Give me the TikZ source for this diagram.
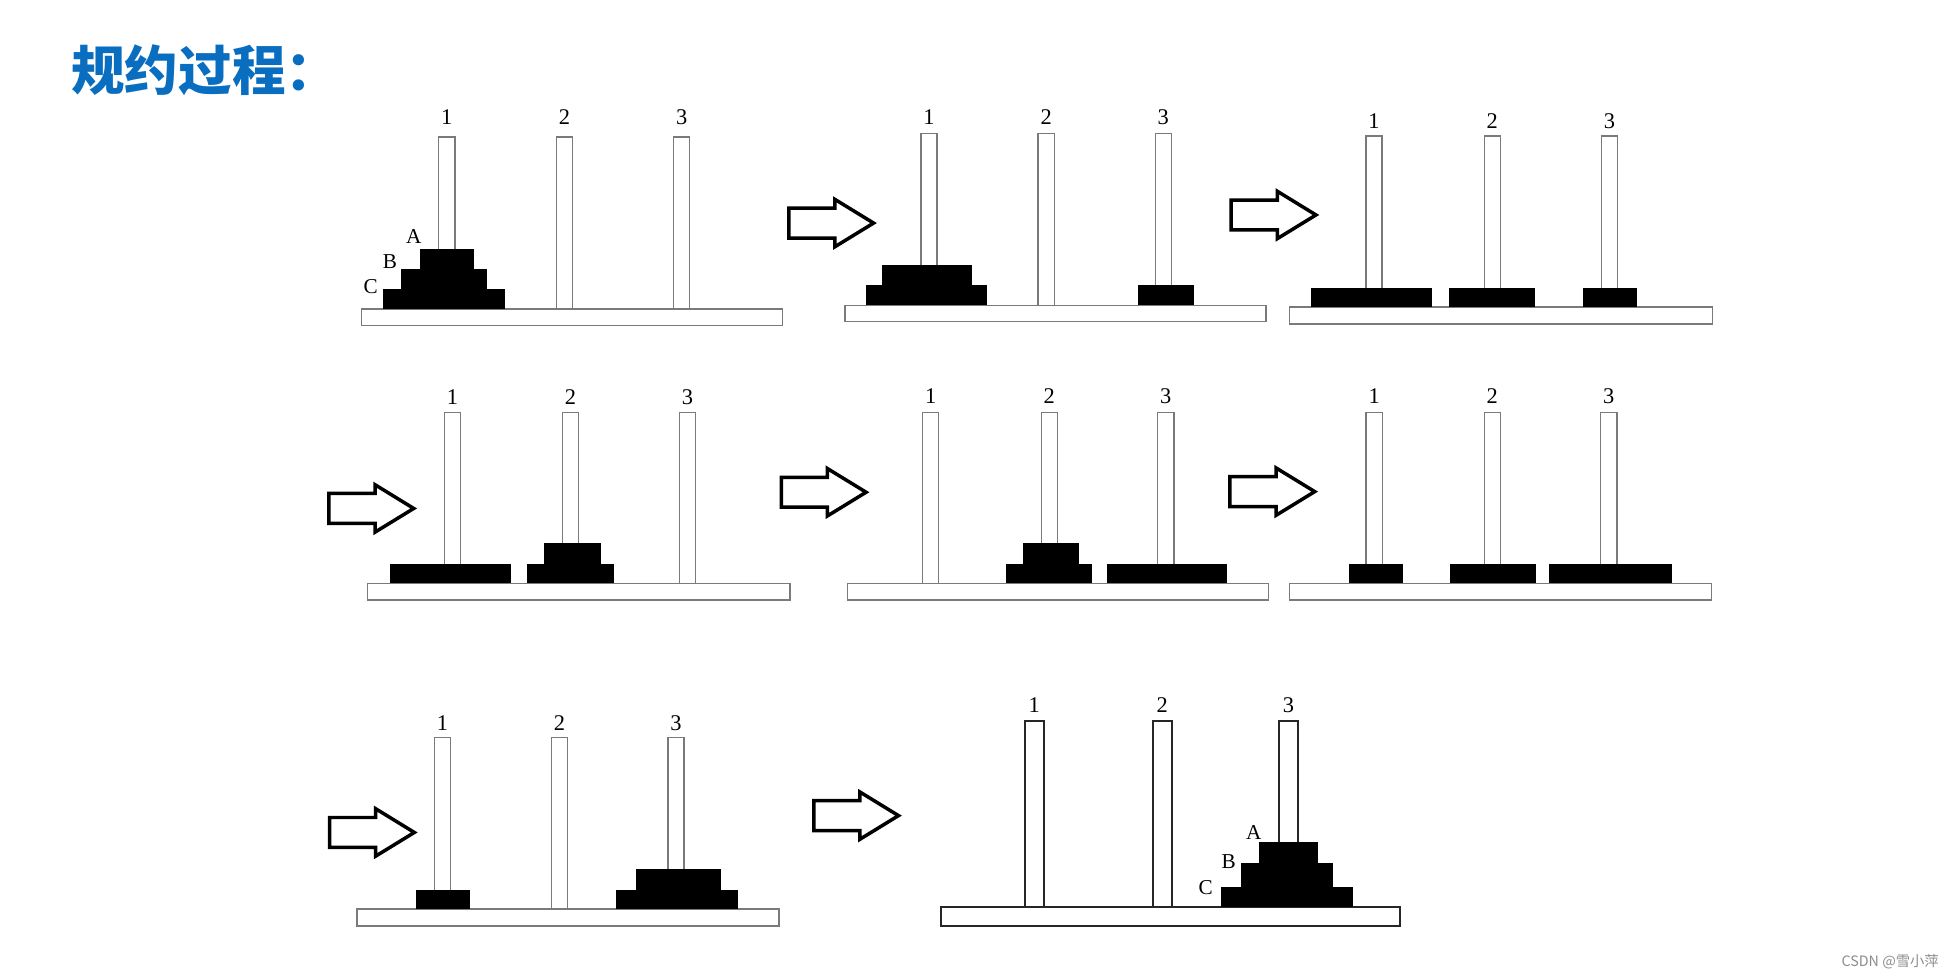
\documentclass[tikz,border=0pt]{standalone}
\usepackage{fontspec}
\setmainfont{Liberation Serif}
\newfontfamily\cjk{Noto Sans CJK SC}
\usepackage{xcolor}
\definecolor{TitleBlue}{HTML}{0A6EC0}
\definecolor{RodGray}{HTML}{7A7A7A}
\usepackage{tikz}

\begin{document}
\begin{tikzpicture}[x=1pt, y=-1pt, every node/.style={inner sep=0pt}]
\tikzset{board/.style={draw=RodGray, fill=white, line width=1.1pt}}
\tikzset{bigboard/.style={draw=black!85, fill=white, line width=1.6pt}}
\tikzset{disk/.style={fill=black}}
\tikzset{num/.style={font=\fontsize{18}{18}\selectfont}}
\tikzset{tag/.style={font=\fontsize{17}{17}\selectfont}}
\tikzset{hollow/.style={draw, line width=2.8pt, fill=white, line join=miter}}
\tikzset{move/.pic={\draw[hollow] (0,-12) -- (37,-12) -- (37,-19) -- (68,0) -- (37,19) -- (37,12) -- (0,12) -- cycle;}}
\useasboundingbox (0,0) rectangle (1568,786);

\node[anchor=west, text=TitleBlue, font=\cjk\bfseries\fontsize{43}{43}\selectfont] (title) at (57,56) {规约过程：};

% start: all on peg 1
\draw[board] (290,248) rectangle (628,261);
\foreach \x/\n in {358.5/1,453/2,547/3} {
  \draw[board] (\x-6.5,110) rectangle (\x+6.5,248);
  \node[num] (s1n\n) at (\x,94) {\n};
}
\fill[disk] (307,232) rectangle (405,248);
\fill[disk] (322,216) rectangle (391,232);
\fill[disk] (337,200) rectangle (380,216);
\node[tag] (s1a) at (332,190) {A};
\node[tag] (s1b) at (313,210) {B};
\node[tag] (s1c) at (297.5,230) {C};

\pic (m1) at (633,179) {move};

% A moved to peg 3
\draw[board] (678,245) rectangle (1016,258);
\foreach \x/\n in {745.5/1,839.5/2,933.5/3} {
  \draw[board] (\x-6.5,107) rectangle (\x+6.5,245);
  \node[num] (s2n\n) at (\x,94) {\n};
}
\fill[disk] (695,229) rectangle (792,245);
\fill[disk] (707.5,213) rectangle (780,229);
\fill[disk] (913,229) rectangle (958,245);

\pic (m2) at (988,172.5) {move};

% B moved to peg 2
\draw[board] (1035,246.5) rectangle (1374,260);
\foreach \x/\n in {1102.5/1,1197.5/2,1291.5/3} {
  \draw[board] (\x-6.5,109) rectangle (\x+6.5,246.5);
  \node[num] (s3n\n) at (\x,97) {\n};
}
\fill[disk] (1052,231) rectangle (1149,246.5);
\fill[disk] (1163,231) rectangle (1232,246.5);
\fill[disk] (1270,231) rectangle (1314,246.5);

\pic (m3) at (264,408) {move};

% A onto B
\draw[board] (295,468) rectangle (634,481.5);
\foreach \x/\n in {363/1,457.7/2,551.7/3} {
  \draw[board] (\x-6.5,331) rectangle (\x+6.5,468);
  \node[num] (s4n\n) at (\x,319) {\n};
}
\fill[disk] (313,452.5) rectangle (410,468);
\fill[disk] (422.5,452.5) rectangle (492.5,468);
\fill[disk] (436.5,436) rectangle (482,452.5);

\pic (m4) at (627,395) {move};

% C moved to peg 3
\draw[board] (680,468) rectangle (1018,481.5);
\foreach \x/\n in {746.8/1,842/2,935.5/3} {
  \draw[board] (\x-6.5,331) rectangle (\x+6.5,468);
  \node[num] (s5n\n) at (\x,318) {\n};
}
\fill[disk] (807,452.5) rectangle (876.5,468);
\fill[disk] (821,436) rectangle (866,452.5);
\fill[disk] (888,452.5) rectangle (985,468);

\pic (m5) at (987,394.5) {move};

% A moved to peg 1
\draw[board] (1035,468) rectangle (1373.5,481.5);
\foreach \x/\n in {1102.7/1,1197.5/2,1291/3} {
  \draw[board] (\x-6.5,331) rectangle (\x+6.5,468);
  \node[num] (s6n\n) at (\x,318) {\n};
}
\fill[disk] (1082.5,452.5) rectangle (1125.5,468);
\fill[disk] (1163.5,452.5) rectangle (1232.5,468);
\fill[disk] (1243,452.5) rectangle (1341.5,468);

\pic (m6) at (264.5,668) {move};

% B onto C
\draw[board] (286.5,729.5) rectangle (625,743);
\foreach \x/\n in {355/1,449/2,542.5/3} {
  \draw[board] (\x-6.5,592) rectangle (\x+6.5,729.5);
  \node[num] (s7n\n) at (\x,580) {\n};
}
\fill[disk] (333.5,714) rectangle (377,729.5);
\fill[disk] (494.5,714) rectangle (592,729.5);
\fill[disk] (510,697.5) rectangle (578.5,714);

\pic (m7) at (653,654.5) {move};

% end: all on peg 3
\draw[bigboard] (755,728) rectangle (1123.5,743);
\foreach \x/\n in {830/1,932.6/2,1034/3} {
  \draw[bigboard] (\x-7.5,578.5) rectangle (\x+7.5,728);
  \node[num] (s8n\n) at (\x,566) {\n};
}
\fill[disk] (980,711.5) rectangle (1086,728);
\fill[disk] (995.5,692.5) rectangle (1070,711.5);
\fill[disk] (1010,675.5) rectangle (1057.5,692.5);
\node[tag] (s8a) at (1006,668) {A};
\node[tag] (s8b) at (986,691) {B};
\node[tag] (s8c) at (967.5,712) {C};

\node[anchor=east, text=black!45, font=\cjk\fontsize{11.5}{12}\selectfont] (mark) at (1556,772) {CSDN @雪小萍};
\end{tikzpicture}
\end{document}
